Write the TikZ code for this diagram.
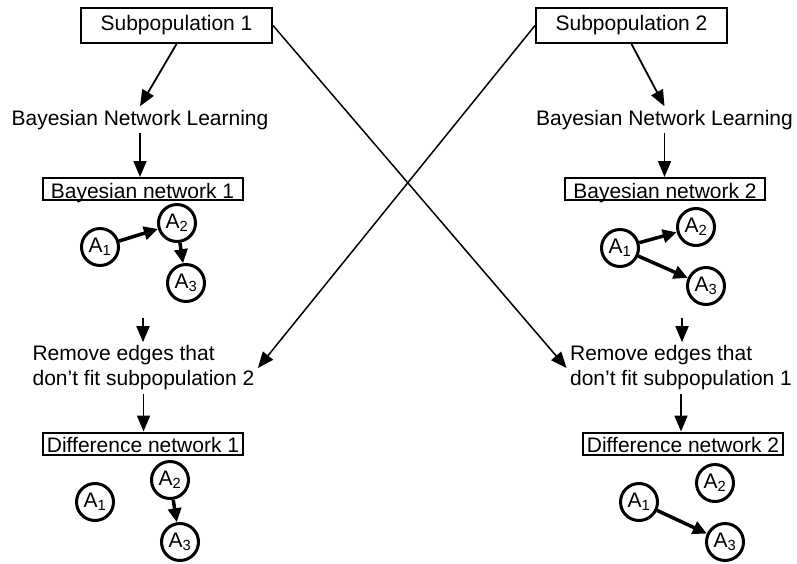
\documentclass[tikz,border=0pt]{standalone}
\usepackage{fontspec}
\setmainfont{Liberation Sans}
\usetikzlibrary{arrows.meta}

\begin{document}
\begin{tikzpicture}[x=1pt,y=-1pt,font=\fontsize{21}{25}\selectfont,
	titlebox/.style={draw,line width=2pt,minimum width=191pt,minimum height=35pt,inner sep=0pt},
	netbox/.style={draw,line width=2pt,minimum width=200pt,inner xsep=2pt,inner ysep=2pt,text height=18pt,text depth=0pt},
	var/.style={circle,draw,line width=3pt,minimum size=37pt,inner sep=0pt},
	flow/.style={-{Triangle[length=16pt,width=13pt]},line width=1.8pt},
	cross/.style={-{Triangle[length=16pt,width=13pt]},line width=1.5pt},
	link/.style={-{Triangle[length=14pt,width=13pt]},line width=3.5pt}]
	\useasboundingbox (0,0) rectangle (797,563);

	\node [titlebox](S1) at (176.5,25.5) {Subpopulation 1};
	\node [titlebox](S2) at (631.5,25.5) {Subpopulation 2};
	\node [anchor=base](L1) at (140,125) {Bayesian Network Learning};
	\node [anchor=base](L2) at (664.5,125) {Bayesian Network Learning};
	\node [netbox](BN1) at (142.5,189) {Bayesian network 1};
	\node [netbox](BN2) at (665,189) {Bayesian network 2};
	\node [align=left](R1) at (143.5,368) {Remove edges that\\don’t fit subpopulation 2};
	\node [align=left](R2) at (681,368) {Remove edges that\\don’t fit subpopulation 1};
	\node [netbox](D1) at (143,443.5) {Difference network 1};
	\node [netbox](D2) at (683,443.5) {Difference network 2};
	\coordinate (G1) at (143,318);
	\coordinate (G2) at (682,318);

	% networks
	\node [var](bn1a1) at (100,247) {A\textsubscript{1}};
	\node [var](bn1a2) at (177,223) {A\textsubscript{2}};
	\node [var](bn1a3) at (186,283) {A\textsubscript{3}};
	\node [var](bn2a1) at (620,248) {A\textsubscript{1}};
	\node [var](bn2a2) at (696,227) {A\textsubscript{2}};
	\node [var](bn2a3) at (706,286) {A\textsubscript{3}};
	\node [var](dn1a1) at (95,502) {A\textsubscript{1}};
	\node [var](dn1a2) at (170,480) {A\textsubscript{2}};
	\node [var](dn1a3) at (180,542) {A\textsubscript{3}};
	\node [var](dn2a1) at (639,502) {A\textsubscript{1}};
	\node [var](dn2a2) at (715,483) {A\textsubscript{2}};
	\node [var](dn2a3) at (725,542) {A\textsubscript{3}};

	\draw [link] (bn1a1) -- (bn1a2);
	\draw [link] (bn1a2) -- (bn1a3);
	\draw [link] (bn2a1) -- (bn2a2);
	\draw [link] (bn2a1) -- (bn2a3);
	\draw [link] (dn1a2) -- (dn1a3);
	\draw [link] (dn2a1) -- (dn2a3);

	% flow
	\draw [flow] (S1.south) -- (L1.north);
	\draw [flow] (L1.south) -- (L1.south |- BN1.north);
	\draw [flow] (G1) -- (G1 |- R1.north);
	\draw [flow] (R1.south) -- (R1.south |- D1.north);
	\draw [flow] (S2.south) -- (L2.north);
	\draw [flow] (L2.south) -- (L2.south |- BN2.north);
	\draw [flow] (G2) -- (G2 |- R2.north);
	\draw [flow] (R2.south) -- (R2.south |- D2.north);
	\draw [cross] (S1.east) -- (R2.west);
	\draw [cross] (S2.west) -- (R1.east);
\end{tikzpicture}
\end{document}
